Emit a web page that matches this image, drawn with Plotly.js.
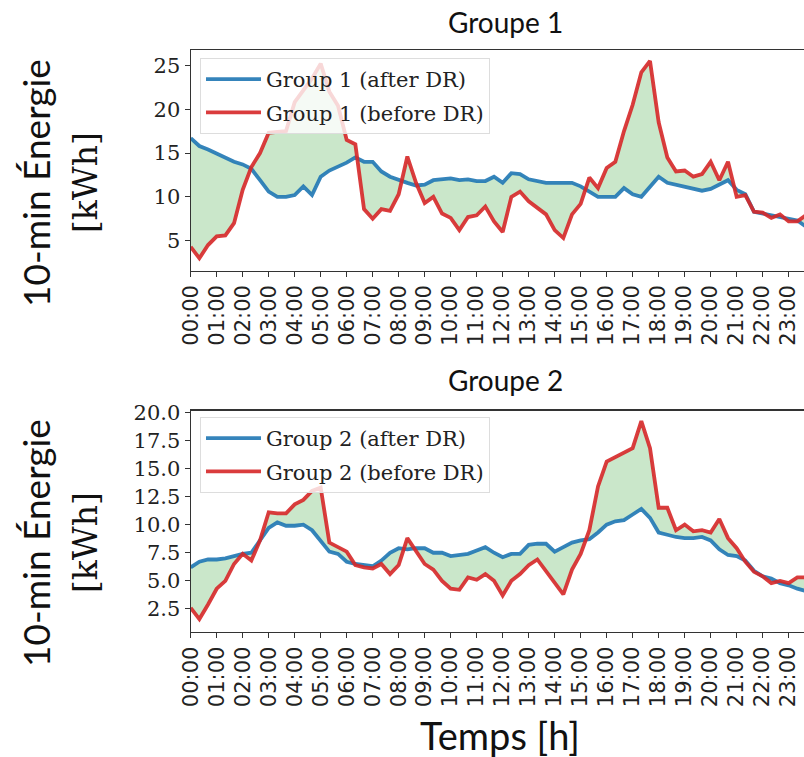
<!DOCTYPE html>
<html>
<head>
<meta charset="utf-8">
<script src="https://cdn.plot.ly/plotly-3.0.1.min.js"></script>
<style>html,body{margin:0;padding:0;background:#fff;}#chart{width:804px;height:757px;}</style>
</head>
<body>
<div id="chart"></div>
<script>
// time of day in hours (20-minute steps)
const hours = [0,0.333,0.667,1,1.333,1.667,2,2.333,2.667,3,3.333,3.667,4,4.333,4.667,5,5.333,5.667,6,6.333,6.667,7,7.333,7.667,
  8,8.333,8.667,9,9.333,9.667,10,10.333,10.667,11,11.333,11.667,12,12.333,12.667,13,13.333,13.667,14,14.333,14.667,15,15.333,15.667,
  16,16.333,16.667,17,17.333,17.667,18,18.333,18.667,19,19.333,19.667,20,20.333,20.667,21,21.333,21.667,22,22.333,22.667,23,23.333,23.667];

const g1After = [16.7,15.8,15.4,14.9,14.4,14.0,13.7,13.2,11.9,10.6,10.0,10.0,10.2,11.2,10.2,12.3,13.0,13.4,13.9,14.5,14.0,14.0,12.9,12.3,
  11.9,11.6,11.3,11.4,11.9,12.0,12.1,11.9,12.0,11.8,11.8,12.3,11.6,12.7,12.6,12.0,11.8,11.6,11.6,11.6,11.6,11.2,10.6,10.0,
  10.0,10.0,11.0,10.3,10.0,11.1,12.3,11.6,11.4,11.2,10.9,10.7,10.9,11.4,11.9,10.8,10.3,8.3,8.1,8.0,7.8,7.5,7.3,6.6];
const g1Before = [4.3,3.0,4.5,5.5,5.6,7.0,10.8,13.4,15.0,17.3,17.4,17.5,20.8,22.2,23.5,25.2,22.0,20.4,16.5,16.0,8.6,7.5,8.6,8.4,
  10.3,14.6,11.6,9.3,10.0,8.1,7.6,6.2,7.7,7.9,8.9,7.2,6.0,10.0,10.6,9.5,8.8,8.0,6.2,5.3,8.0,9.2,12.2,11.0,
  13.3,14.0,17.5,20.5,24.2,25.5,18.5,14.5,12.9,13.0,12.3,12.6,14.0,11.9,14.0,10.0,10.2,8.3,8.2,7.6,8.0,7.2,7.2,7.9];
const g2After = [6.2,6.7,6.9,6.9,7.0,7.2,7.4,7.5,8.6,9.7,10.2,9.9,9.9,10.0,9.5,8.6,7.6,7.4,6.7,6.5,6.4,6.3,6.8,7.5,
  7.9,7.8,7.9,7.9,7.5,7.5,7.2,7.3,7.4,7.7,8.0,7.5,7.1,7.4,7.4,8.2,8.3,8.3,7.6,8.0,8.4,8.6,8.7,9.3,
  10.0,10.3,10.4,10.9,11.4,10.6,9.3,9.1,8.9,8.8,8.8,8.9,8.6,7.8,7.3,7.2,6.8,5.9,5.4,5.2,4.8,4.6,4.3,4.1];
const g2Before = [2.6,1.6,2.9,4.3,5.0,6.5,7.4,6.8,8.6,11.1,11.0,11.0,11.8,12.2,13.0,13.3,8.4,8.0,7.6,6.4,6.2,6.1,6.5,5.6,
  6.4,8.8,7.6,6.5,6.0,5.0,4.3,4.2,5.3,5.1,5.6,5.0,3.7,5.0,5.6,6.4,6.9,5.9,4.8,3.8,6.0,7.4,9.5,13.4,
  15.6,16.0,16.4,16.8,19.2,16.8,11.5,11.5,9.5,10.0,9.4,9.5,9.3,10.5,8.8,7.9,6.7,5.8,5.4,4.8,5.0,4.8,5.3,5.3];

const tickHours = [0,1,2,3,4,5,6,7,8,9,10,11,12,13,14,15,16,17,18,19,20,21,22,23];
const tickLabels = ["00:00","01:00","02:00","03:00","04:00","05:00","06:00","07:00","08:00","09:00","10:00","11:00",
  "12:00","13:00","14:00","15:00","16:00","17:00","18:00","19:00","20:00","21:00","22:00","23:00"];
const g1Ticks = [5,10,15,20,25];
const g1TickText = ["5","10","15","20","25"];
const g2Ticks = [2.5,5,7.5,10,12.5,15,17.5,20];
const g2TickText = ["2.5","5.0","7.5","10.0","12.5","15.0","17.5","20.0"];

const BLUE = 'rgba(31,119,180,0.9)';
const RED = 'rgba(214,39,40,0.9)';
const FILL = 'rgba(44,160,44,0.25)';
const SERIF = 'DejaVu Serif, serif';
const SANS = 'DejaVu Sans, sans-serif';
const TITLE = 'Lato, Open Sans, sans-serif';

function group(after, before, xa, ya, leg, name) {
  return [
    {x: hours, y: after, xaxis: xa, yaxis: ya, mode: 'lines', line: {width: 0, color: 'rgba(0,0,0,0)'}, showlegend: false, hoverinfo: 'skip'},
    {x: hours, y: before, xaxis: xa, yaxis: ya, mode: 'lines', line: {width: 0, color: 'rgba(0,0,0,0)'}, fill: 'tonexty', fillcolor: FILL, showlegend: false, hoverinfo: 'skip'},
    {x: hours, y: after, xaxis: xa, yaxis: ya, mode: 'lines', name: name + ' (after DR)', line: {width: 3.8, color: BLUE}, legend: leg, legendgroup: leg + 'a'},
    {x: hours, y: before, xaxis: xa, yaxis: ya, mode: 'lines', name: name + ' (before DR)', line: {width: 3.8, color: RED}, legend: leg, legendgroup: leg + 'b'}
  ];
}

const data = group(g1After, g1Before, 'x', 'y', 'legend', 'Group 1')
  .concat(group(g2After, g2Before, 'x2', 'y2', 'legend2', 'Group 2'));

const W = 804, H = 757;
const px = v => v / W;
const py = v => (H - v) / H;

const xBase = {
  range: [0, 23.59], tickvals: tickHours, ticktext: tickLabels, tickangle: -90,
  tickfont: {family: SANS, size: 21, color: '#222'}, ticks: 'outside', ticklen: 5, tickwidth: 1, tickcolor: '#333',
  showline: true, linecolor: '#333', linewidth: 1.2, mirror: true, showgrid: false, zeroline: false, fixedrange: true
};
const yBase = {
  tickfont: {family: SERIF, size: 21, color: '#222'}, ticks: 'outside', ticklen: 5, tickwidth: 1, tickcolor: '#333',
  showline: true, linecolor: '#333', linewidth: 1.2, mirror: false, showgrid: false, zeroline: false, fixedrange: true
};
const legBase = {
  xanchor: 'left', yanchor: 'top', bgcolor: 'rgba(255,255,255,0.8)', bordercolor: '#dddddd', borderwidth: 1,
  font: {family: SERIF, size: 21, color: '#222'}, traceorder: 'grouped', tracegroupgap: 3, itemwidth: 55
};

const layout = {
  width: W, height: H, margin: {l: 0, r: 0, t: 0, b: 0}, paper_bgcolor: '#fff', plot_bgcolor: '#fff',
  xaxis: Object.assign({}, xBase, {domain: [px(190.7), 1], anchor: 'y'}),
  yaxis: Object.assign({}, yBase, {domain: [py(270.5), py(50)], range: [1.6, 26.75], tickvals: g1Ticks, ticktext: g1TickText, anchor: 'x'}),
  xaxis2: Object.assign({}, xBase, {domain: [px(190.7), 1], anchor: 'y2'}),
  yaxis2: Object.assign({}, yBase, {domain: [py(632), py(410.5)], range: [0.45, 20.15], tickvals: g2Ticks, ticktext: g2TickText, anchor: 'x2'}),
  legend: Object.assign({}, legBase, {x: px(200), y: py(58)}),
  legend2: Object.assign({}, legBase, {x: px(200), y: py(417)}),
  annotations: [
    {text: 'Groupe 1', x: px(505), y: py(22), xref: 'paper', yref: 'paper', showarrow: false, xanchor: 'center', yanchor: 'middle', font: {family: TITLE, size: 28, color: '#111'}},
    {text: 'Groupe 2', x: px(505), y: py(380), xref: 'paper', yref: 'paper', showarrow: false, xanchor: 'center', yanchor: 'middle', font: {family: TITLE, size: 28, color: '#111'}},
    {text: 'Temps [h]', x: px(500), y: py(735), xref: 'paper', yref: 'paper', showarrow: false, xanchor: 'center', yanchor: 'middle', font: {family: TITLE, size: 38, color: '#111'}},
    {text: '10-min Énergie', x: px(35), y: py(183), xref: 'paper', yref: 'paper', showarrow: false, textangle: -90, xanchor: 'center', yanchor: 'middle', font: {family: TITLE, size: 37, color: '#111'}},
    {text: '[kWh]', x: px(85), y: py(183), xref: 'paper', yref: 'paper', showarrow: false, textangle: -90, xanchor: 'center', yanchor: 'middle', font: {family: SERIF, size: 33, color: '#111'}},
    {text: '10-min Énergie', x: px(35), y: py(543), xref: 'paper', yref: 'paper', showarrow: false, textangle: -90, xanchor: 'center', yanchor: 'middle', font: {family: TITLE, size: 37, color: '#111'}},
    {text: '[kWh]', x: px(85), y: py(543), xref: 'paper', yref: 'paper', showarrow: false, textangle: -90, xanchor: 'center', yanchor: 'middle', font: {family: SERIF, size: 33, color: '#111'}}
  ]
};

Plotly.newPlot('chart', data, layout, {staticPlot: true, displayModeBar: false});
</script>
</body>
</html>
